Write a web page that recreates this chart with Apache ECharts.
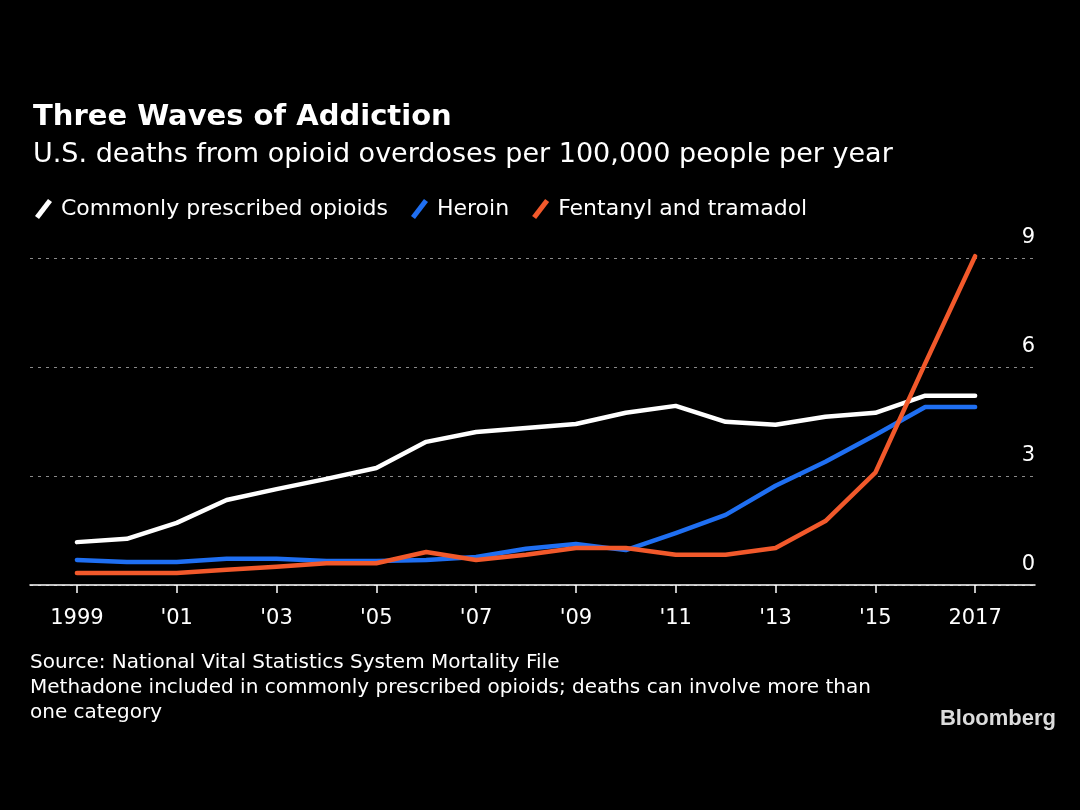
<!DOCTYPE html>
<html>
<head>
<meta charset="utf-8">
<script src="https://cdn.jsdelivr.net/npm/echarts@6/dist/echarts.min.js"></script>
<style>
  html, body { margin: 0; padding: 0; background: #000; }
  #chart { width: 1080px; height: 810px; }
</style>
</head>
<body>
<div id="chart"></div>
<script>
// data
const years = [1999, 2000, 2001, 2002, 2003, 2004, 2005, 2006, 2007, 2008,
  2009, 2010, 2011, 2012, 2013, 2014, 2015, 2016, 2017];
const prescribed = [1.18, 1.27, 1.71, 2.34, 2.64, 2.92, 3.22, 3.94, 4.21, 4.32,
  4.43, 4.74, 4.93, 4.49, 4.41, 4.63, 4.74, 5.21, 5.21];
const heroin = [0.69, 0.63, 0.63, 0.72, 0.72, 0.66, 0.66, 0.69, 0.77, 1.0,
  1.13, 0.96, 1.43, 1.93, 2.73, 3.39, 4.13, 4.9, 4.9];
const fentanyl = [0.33, 0.33, 0.33, 0.42, 0.5, 0.6, 0.6, 0.91, 0.69, 0.83,
  1.02, 1.02, 0.83, 0.83, 1.02, 1.76, 3.09, 6.1, 9.05];
const tickYears = [1999, 2001, 2003, 2005, 2007, 2009, 2011, 2013, 2015, 2017];

const seriesNames = ["Commonly prescribed opioids", "Heroin", "Fentanyl and tramadol"];
const colors = ["#ffffff", "#1f6ff2", "#f2592b"];
const FONT = "DejaVu Sans";

const pairs = (vals) => years.map((y, i) => [y, vals[i]]);

const yearLabel = (v) => {
  if (v === 1999 || v === 2017) return String(v);
  return "'" + String(v).slice(2);
};

// slanted stroke used as legend marker
const slash = "path://M0,17 L13,0 L17,3 L4,20 Z";

const chart = echarts.init(document.getElementById("chart"));

const option = {
  backgroundColor: "#000",
  animation: false,
  textStyle: { fontFamily: FONT },
  title: [
    {
      text: "Three Waves of Addiction",
      left: 28, top: 98,
      textStyle: { color: "#fff", fontSize: 29, fontWeight: "bold", fontFamily: FONT }
    },
    {
      text: "U.S. deaths from opioid overdoses per 100,000 people per year",
      left: 28, top: 136,
      textStyle: { color: "#fff", fontSize: 27, fontWeight: "normal", fontFamily: FONT }
    }
  ],
  legend: {
    left: 30, top: 193,
    icon: slash,
    itemWidth: 19, itemHeight: 20,
    itemGap: 23,
    textStyle: { color: "#fff", fontSize: 22, padding: [0, 0, 0, 3] },
    data: seriesNames
  },
  grid: { left: 30, right: 45, top: 258, bottom: 225, containLabel: false },
  xAxis: {
    type: "value",
    min: 1998.06,
    max: 2018.2,
    splitLine: { show: false },
    axisLine: { lineStyle: { color: "#fff", width: 1.5 } },
    axisTick: {
      customValues: tickYears,
      length: 8,
      lineStyle: { color: "#fff", width: 1.5 }
    },
    axisLabel: {
      customValues: tickYears,
      color: "#fff",
      fontSize: 21,
      margin: 23,
      formatter: yearLabel
    }
  },
  yAxis: {
    type: "value",
    position: "right",
    min: 0, max: 9, interval: 3,
    axisLine: { show: false },
    axisTick: { show: false },
    splitLine: {
      lineStyle: { color: "#8a8a8a", type: [3, 5], width: 1.2 }
    },
    axisLabel: {
      inside: true,
      color: "#fff",
      fontSize: 21,
      margin: 0,
      verticalAlign: "bottom",
      padding: [0, 0, 10, 0]
    }
  },
  series: seriesNames.map((name, i) => ({
    name: name,
    type: "line",
    data: pairs([prescribed, heroin, fentanyl][i]),
    showSymbol: false,
    clip: false,
    color: colors[i],
    lineStyle: { color: colors[i], width: 4.5, cap: "round", join: "round" },
    z: [3, 2, 4][i]
  })),
  graphic: [
    {
      type: "text",
      left: 30, top: 650,
      style: {
        text: "Source: National Vital Statistics System Mortality File\n" +
          "Methadone included in commonly prescribed opioids; deaths can involve more than\n" +
          "one category",
        fill: "#fff",
        font: "20px '" + FONT + "'",
        lineHeight: 25
      }
    },
    {
      type: "text",
      right: 24, top: 708,
      style: {
        text: "Bloomberg",
        fill: "#dcdcdc",
        font: "bold 22px 'Liberation Sans'"
      }
    }
  ]
};

chart.setOption(option);
</script>
</body>
</html>
